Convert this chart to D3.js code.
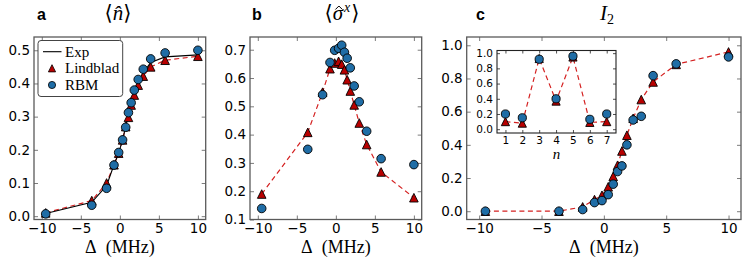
<!DOCTYPE html>
<html><head><meta charset="utf-8">
<script src="https://cdn.jsdelivr.net/npm/d3@7"></script>
<style>
body{margin:0;background:#fff;}
svg{display:block;}
.tick text{font-family:"DejaVu Sans",sans-serif;}
</style></head>
<body><svg id="c" width="747" height="266"></svg>
<script>
// ---- data ----
const detuning = [-9.5, -3.6, -1.7, -0.75, -0.15, 0.35, 0.75, 1.1, 1.45, 1.85, 2.35, 3.0, 3.95, 5.8, 10.0];
const nExp  = [0.008, 0.042, 0.092, 0.155, 0.19, 0.23, 0.27, 0.305, 0.34, 0.372, 0.405, 0.432, 0.463, 0.48, 0.486];
const nLind = [0.01, 0.047, 0.1, 0.155, 0.19, 0.23, 0.27, 0.298, 0.335, 0.365, 0.395, 0.422, 0.45, 0.47, 0.482];
const nRBM  = [0.007, 0.033, 0.084, 0.154, 0.192, 0.23, 0.268, 0.312, 0.342, 0.38, 0.412, 0.443, 0.474, 0.492, 0.5];
const sxLind = [0.19, 0.408, 0.55, 0.633, 0.653, 0.659, 0.649, 0.629, 0.594, 0.554, 0.505, 0.441, 0.365, 0.268, 0.177];
const sxRBM  = [0.139, 0.348, 0.541, 0.655, 0.698, 0.705, 0.716, 0.691, 0.67, 0.636, 0.572, 0.516, 0.412, 0.315, 0.294];
const i2Lind = [0.0, 0.0, 0.026, 0.07, 0.096, 0.147, 0.21, 0.277, 0.363, 0.458, 0.56, 0.673, 0.779, 0.885, 0.96];
const i2RBM  = [0.0, 0.0, 0.01, 0.052, 0.064, 0.1, 0.163, 0.239, 0.273, 0.4, 0.55, 0.572, 0.817, 0.888, 0.93];
const insetN = [1, 2, 3, 4, 5, 6, 7];
const insetLind = [0.1, 0.08, 0.93, 0.37, 0.95, 0.09, 0.1];
const insetRBM  = [0.2, 0.15, 0.92, 0.4, 0.96, 0.13, 0.2];
const xTicks = [-10, -5, 0, 5, 10];
const yTicksA = [0.0, 0.1, 0.2, 0.3, 0.4, 0.5];
const yTicksB = [0.1, 0.2, 0.3, 0.4, 0.5, 0.6, 0.7];
const yTicksC = [0.0, 0.2, 0.4, 0.6, 0.8, 1.0];
const xTicksInset = [1, 2, 3, 4, 5, 6, 7];
const legendLabels = ["Exp", "Lindblad", "RBM"];

// ---- styles ----
const RED_LINE = "#d42020", RED_FILL = "#b80000", BLUE = "#1f6da6";
const svg = d3.select("#c");

function triPath(r){ return `M0,${-r}L${r},${r}L${-r},${r}Z`; }

function panel(o){
  const g = svg.append("g");
  const x = d3.scaleLinear().domain(o.xd).range([o.x0, o.x1]);
  const y = d3.scaleLinear().domain(o.yd).range([o.y1, o.y0]);
  const fs = o.fs, tl = o.tl, col = o.frame;
  const fmtY = d3.format(".1f");
  const ax = (gen, tr) => {
    const a = g.append("g").attr("transform", tr).call(gen);
    a.select(".domain").remove();
    a.selectAll(".tick line").attr("stroke", col).attr("stroke-width", 0.8);
    a.selectAll(".tick text").attr("font-size", fs).attr("fill", "#000");
    return a;
  };
  ax(d3.axisBottom(x).tickValues(o.xt).tickSize(-tl).tickPadding(o.pad).tickFormat(o.xf || d3.format("")), `translate(0,${o.y1})`);
  ax(d3.axisTop(x).tickValues(o.xt).tickSize(-tl).tickFormat(""), `translate(0,${o.y0})`);
  ax(d3.axisLeft(y).tickValues(o.yt).tickSize(-tl).tickPadding(o.pad).tickFormat(fmtY), `translate(${o.x0},0)`);
  ax(d3.axisRight(y).tickValues(o.yt).tickSize(-tl).tickFormat(""), `translate(${o.x1},0)`);
  const clipId = "clip" + Math.round(o.x0) + "_" + Math.round(o.y0);
  svg.append("clipPath").attr("id", clipId).append("rect")
    .attr("x", o.x0).attr("y", o.y0).attr("width", o.x1 - o.x0).attr("height", o.y1 - o.y0);
  const pg = g.append("g").attr("clip-path", `url(#${clipId})`);
  const line = d3.line().x(d => x(d[0])).y(d => y(d[1]));
  const pts = (xs, ys) => xs.map((v, i) => [v, ys[i]]);
  pg.append("path").datum(pts(o.xs, o.lind)).attr("d", line)
    .attr("fill", "none").attr("stroke", RED_LINE).attr("stroke-width", 1.2).attr("stroke-dasharray", "5,3.5");
  if (o.exp) pg.append("path").datum(pts(o.xs, o.exp)).attr("d", line)
    .attr("fill", "none").attr("stroke", "#000").attr("stroke-width", 1.1);
  const r = o.r;
  g.append("g").selectAll("path").data(pts(o.xs, o.lind)).join("path")
    .attr("d", triPath(r)).attr("transform", d => `translate(${x(d[0])},${y(d[1])})`)
    .attr("fill", RED_FILL).attr("stroke", "#000").attr("stroke-width", 0.9);
  g.append("g").selectAll("circle").data(pts(o.xs, o.rbm)).join("circle")
    .attr("cx", d => x(d[0])).attr("cy", d => y(d[1])).attr("r", r)
    .attr("fill", BLUE).attr("stroke", "#000").attr("stroke-width", 0.9);
  g.append("rect").attr("x", o.x0).attr("y", o.y0).attr("width", o.x1 - o.x0).attr("height", o.y1 - o.y0)
    .attr("fill", "none").attr("stroke", col).attr("stroke-width", o.sw);
  return {g, x, y};
}

const common = {xd: [-11, 11], xt: xTicks, fs: 13.5, tl: 4, pad: 4, frame: "#5a5a5a", sw: 1.3, r: 4.3, xs: detuning, y0: 37, y1: 219.5};
const A = panel(Object.assign({}, common, {x0: 34, x1: 205.7, yd: [-0.01, 0.54], yt: yTicksA, exp: nExp, lind: nLind, rbm: nRBM}));
const B = panel(Object.assign({}, common, {x0: 250, x1: 421.7, yd: [0.1, 0.745], yt: yTicksB, lind: sxLind, rbm: sxRBM}));
const Cp = panel(Object.assign({}, common, {x0: 466.7, x1: 741, yd: [-0.05, 1.05], yt: yTicksC, lind: i2Lind, rbm: i2RBM}));

// inset
svg.append("rect").attr("x", 497).attr("y", 50.5).attr("width", 119).attr("height", 82.5).attr("fill", "#fff");
const I = panel({x0: 497, x1: 616, y0: 50.5, y1: 133, xd: [0.5, 7.55], yd: [-0.05, 1.035], xt: xTicksInset, yt: yTicksC,
  xf: d3.format("d"), fs: 10.5, tl: 3, pad: 4, frame: "#222", sw: 1.1, r: 4.1, xs: insetN, lind: insetLind, rbm: insetRBM});

// x labels
const serif = "'Liberation Serif','DejaVu Serif',serif";
[[34, 205.7], [250, 421.7], [466.7, 741]].forEach(([a, b]) => {
  svg.append("text").attr("x", (a + b) / 2).attr("y", 253).attr("text-anchor", "middle")
    .attr("font-family", serif).attr("font-size", 18).text("Δ\u2002(MHz)");
});
svg.append("text").attr("x", 556.5).attr("y", 159).attr("text-anchor", "middle")
  .attr("font-family", serif).attr("font-size", 15).attr("font-style", "italic").text("n");

// panel letters
[["a", 37], ["b", 252], ["c", 476]].forEach(([t, xx]) => {
  svg.append("text").attr("x", xx).attr("y", 20).attr("font-family", "'Liberation Sans',Arial,sans-serif")
    .attr("font-weight", "bold").attr("font-size", 16).text(t);
});

// titles
function title(cx, parts){
  const t = svg.append("text").attr("x", cx).attr("y", 20).attr("text-anchor", "middle")
    .attr("font-family", serif).attr("font-size", 21);
  parts.forEach(p => {
    const s = t.append("tspan").text(p.t);
    if (p.i) s.attr("font-style", "italic");
    if (p.dx) s.attr("dx", p.dx);
    if (p.dy) s.attr("dy", p.dy);
    if (p.fs) s.attr("font-size", p.fs);
  });
  return t;
}
title(118, [{t: "⟨"}, {t: "n̂", i: true}, {t: "⟩"}]);
const tb = title(342, [{t: "⟨"}, {t: "σ", i: true}, {t: "x", i: true, dx: 1, dy: -8, fs: 14}, {t: "⟩", dx: 1, dy: 8}]);
// hat over sigma drawn as a small caret
const ext = tb.node().getExtentOfChar(1);
const hx = ext.x + ext.width / 2 + 1, hy = 20 - 13;
svg.append("path").attr("d", `M${hx - 3.5},${hy + 2.5}L${hx},${hy - 1}L${hx + 3.5},${hy + 2.5}`)
  .attr("fill", "none").attr("stroke", "#000").attr("stroke-width", 1);
title(607, [{t: "I", i: true}, {t: "2", dy: 4, fs: 14}]);

// legend
const lg = svg.append("g");
lg.append("rect").attr("x", 38).attr("y", 40.5).attr("width", 84.7).attr("height", 56).attr("rx", 3)
  .attr("fill", "#fff").attr("stroke", "#444").attr("stroke-width", 1);
const ly = [51.7, 68.3, 85];
lg.append("line").attr("x1", 43).attr("x2", 61.5).attr("y1", ly[0]).attr("y2", ly[0]).attr("stroke", "#000").attr("stroke-width", 1.1);
lg.append("path").attr("d", triPath(3.6)).attr("transform", `translate(52,${ly[1]})`)
  .attr("fill", RED_FILL).attr("stroke", "#000").attr("stroke-width", 0.8);
lg.append("circle").attr("cx", 52).attr("cy", ly[2]).attr("r", 3.6)
  .attr("fill", BLUE).attr("stroke", "#000").attr("stroke-width", 0.8);
legendLabels.forEach((t, i) => {
  lg.append("text").attr("x", 65).attr("y", ly[i] + 5).attr("font-family", serif).attr("font-size", 15).text(t);
});
</script></body></html>
